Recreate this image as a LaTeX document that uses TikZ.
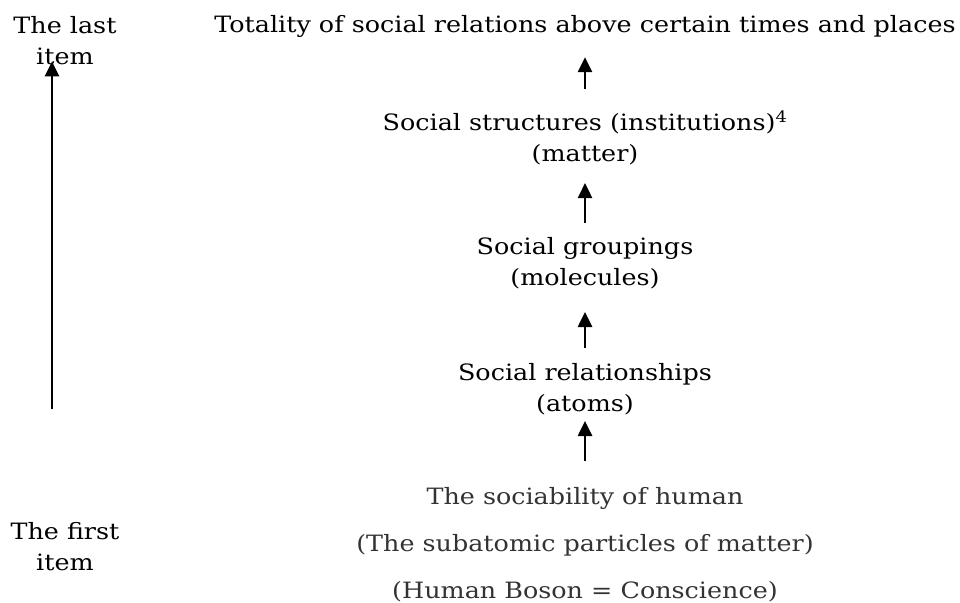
\documentclass[tikz,border=0pt]{standalone}
\usepackage{fontspec}
\setmainfont[FakeStretch=1.13]{DejaVu Serif}
\usetikzlibrary{arrows.meta}
\tikzset{level/.style={align=center, inner sep=0pt,
    font=\fontsize{22.5bp}{31bp}\selectfont},
  up/.style={line width=2.6bp, -{Triangle[length=15bp,width=14bp]}}}
\begin{document}
\begin{tikzpicture}[x=1bp, y=-1bp]
  \useasboundingbox (0,0) rectangle (960,603);
  \node[level] (last)   at (65,41)    {The last\\item};
  \node[level] (first)  at (65,547)   {The first\\item};
  \node[level] (total)  at (585,26)   {Totality of social relations above certain times and places};
  \node[level] (struct) at (585,138)  {Social structures (institutions)\textsuperscript{4}\\(matter)};
  \node[level] (group)  at (585,263)  {Social groupings\\(molecules)};
  \node[level] (relat)  at (585,389)  {Social relationships\\(atoms)};
  \node[level, text=black!80] (human) at (585,545)
    {The sociability of human\\[16bp](The subatomic particles of matter)\\[16bp](Human Boson = Conscience)};
  % arrows
  \coordinate (lowend) at (52,409);
  \draw[up, shorten >=-4bp] (lowend) -- (lowend |- last.south);
  \draw[up, shorten <=22bp, shorten >=20bp] (struct.north) -- (total.south);
  \draw[up, shorten <=14bp, shorten >=18bp] (group.north) -- (struct.south);
  \draw[up, shorten <=15bp, shorten >=23bp] (relat.north) -- (group.south);
  \draw[up, shorten <=27bp, shorten >=6bp] (human.north) -- (relat.south);
\end{tikzpicture}
\end{document}
